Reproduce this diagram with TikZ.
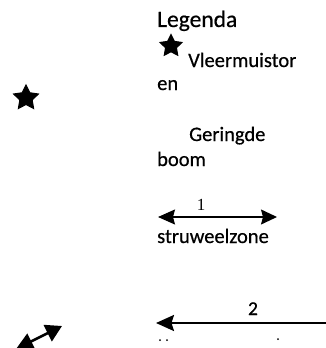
\documentclass[tikz,border=0pt]{standalone}
\usepackage{fontspec}
\setmainfont{Carlito}[FakeBold=0.6]
\newfontfamily\numserif{Liberation Serif}
\usetikzlibrary{arrows.meta,shapes.geometric}
\begin{document}
\begin{tikzpicture}[x=1pt,y=-1pt,
  lbl/.style={anchor=base west,inner sep=0pt,font=\fontsize{20.5}{22}\selectfont},
  starmark/.style={star,star points=5,star point ratio=2.0,fill=black,draw=black,line width=1pt,inner sep=0pt},
  num/.style={anchor=base,inner sep=0pt},
  conn/.style={black}]
\useasboundingbox (0,0) rectangle (326,348);
\clip (0,0) rectangle (326,348);
% title
\node[lbl,font=\fontsize{23.5}{26}\selectfont] (leg) at (157,27) {Legenda};
% small star + text
\node[starmark,minimum size=23pt] (s1) at (171,46) {};
\node[lbl] (vl) at (188,67) {Vleermuistor};
\node[lbl] (en) at (157,90) {en};
\node[lbl] (ger) at (189,141) {Geringde};
\node[lbl] (boom) at (157,166) {boom};
% arrow 1
\node[num,font=\numserif\fontsize{17}{19}\selectfont] (n1) at (201,210) {1};
\coordinate (a1l) at (158,217);
\coordinate (a1r) at (277,217);
\draw[conn,line width=1.2pt,{Stealth[length=17pt,width=15pt,inset=2pt]}-{Stealth[length=16pt,width=15pt,inset=2pt]}] (a1l) -- (a1r);
\node[lbl] (str) at (157,243) {struweelzone};
% arrow 2
\node[num,font=\fontsize{19.5}{21}\selectfont] (n2) at (253,315) {2};
\coordinate (a2l) at (156,323);
\coordinate (a2r) at (330,323);
\draw[conn,line width=2.2pt,{Stealth[length=18pt,width=16pt,inset=2.5pt]}-] (a2l) -- (a2r);
% cut-off marks
\fill (160,340) circle (1pt);
\fill (167,340) circle (1pt);
\fill (278,339) circle (1pt);
% left star
\node[starmark,minimum size=26pt] (s2) at (26,98) {};
% bottom-left double arrow
\coordinate (b1) at (16,349);
\coordinate (b2) at (62,326);
\draw[conn,line width=2.6pt,{Triangle[length=17pt,width=17pt]}-{Triangle[length=16pt,width=18pt]}] (b1) -- (b2);
\end{tikzpicture}
\end{document}
